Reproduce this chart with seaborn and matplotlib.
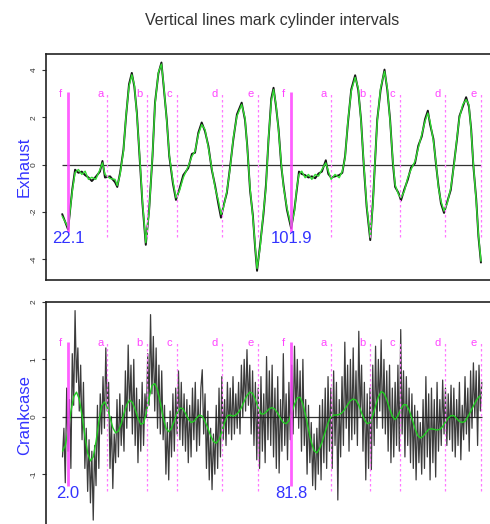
import numpy as np
import matplotlib
matplotlib.use('Agg')
import matplotlib.pyplot as plt
import seaborn as sns

# exhaust pressure (x in the panel's own units)
exhaust_x = [20.0, 22.1, 23.6, 24.6, 25.8, 27.0, 28.2, 29.4, 30.6, 32.0,
             33.5, 34.4, 35.3, 37.1, 38.9, 39.7, 40.7, 41.9, 42.85, 43.9,
             44.9, 45.8, 46.7, 47.6, 48.7, 49.9, 51.1, 52.3, 53.2, 54.4,
             55.5, 56.3, 57.4, 58.3, 59.6, 60.7, 61.9, 63.3, 65.1, 66.4,
             67.5, 68.7, 69.9, 71.1, 72.3, 73.5, 74.7, 75.9, 76.8, 77.7,
             78.9, 80.1, 81.2, 82.5, 84.2, 85.4, 86.2, 87.2, 88.2, 89.0,
             89.7, 90.8, 92.0, 92.9, 93.8, 94.8, 95.6, 96.5, 97.4, 98.4,
             99.2, 100.4, 101.9, 103.1, 103.9, 104.7, 105.7, 106.9, 108.1, 109.3,
             110.5, 111.7, 112.9, 114.3, 115.2, 116.2, 117.6, 119.1, 120.2, 121.2,
             122.2, 123.4, 124.8, 125.9, 126.9, 127.9, 128.9, 130.2, 131.2, 131.9,
             132.7, 133.9, 135.3, 136.3, 137.3, 138.3, 139.1, 140.3, 141.2, 142.4,
             143.6, 144.8, 146.2, 147.4, 148.6, 149.8, 150.8, 151.6, 152.8, 153.8,
             154.6, 155.5, 156.6, 157.8, 159.0, 160.2, 161.2, 162.1, 163.3, 164.5,
             165.5, 166.3, 167.1, 168.1, 168.9, 169.8]
exhaust_smooth = [-2.19, -2.66, -1.13, -0.34, -0.21, -0.42, -0.28, -0.63, -0.54, -0.63,
                  -0.21, 0.07, -0.42, -0.59, -0.63, -0.89, -0.42, 0.56, 2.11, 3.31,
                  3.80, 3.38, 2.11, 0.56, -1.55, -3.31, -1.97, 0.42, 2.54, 3.90,
                  4.25, 3.38, 1.83, 0.42, -0.70, -1.41, -1.13, -0.56, -0.07, 0.35,
                  0.56, 1.27, 1.69, 1.48, 0.70, -0.14, -0.99, -1.55, -2.11, -1.83,
                  -1.13, -0.14, 1.13, 2.04, 2.54, 1.97, 0.70, -0.99, -2.25, -3.38,
                  -4.40, -3.52, -1.97, -0.99, 1.13, 2.68, 3.17, 2.54, 1.41, 0.00,
                  -0.99, -1.83, -2.61, -1.97, -0.99, -0.42, -0.28, -0.56, -0.42, -0.63,
                  -0.42, -0.49, -0.21, 0.07, -0.28, -0.63, -0.42, -0.56, -0.28, 0.28,
                  1.83, 3.10, 3.69, 3.24, 1.83, 0.00, -1.69, -3.10, -1.60, 0.14,
                  1.83, 3.24, 3.94, 3.24, 1.83, 0.14, -0.85, -1.27, -1.41, -1.13,
                  -0.56, -0.21, 0.14, 0.70, 1.27, 1.83, 2.18, 1.83, 0.99, 0.00,
                  -0.99, -1.55, -1.97, -1.62, -0.99, 0.00, 1.13, 1.97, 2.54, 2.75,
                  2.54, 1.41, 0.00, -1.55, -2.96, -4.09]
exhaust_raw = [-2.10, -2.75, -1.05, -0.22, -0.35, -0.30, -0.45, -0.55, -0.70, -0.52,
               -0.30, 0.15, -0.55, -0.50, -0.75, -0.95, -0.35, 0.62, 2.05, 3.40,
               3.88, 3.30, 2.20, 0.48, -1.65, -3.40, -1.90, 0.35, 2.62, 3.85,
               4.32, 3.30, 1.90, 0.35, -0.80, -1.50, -1.05, -0.45, -0.15, 0.45,
               0.50, 1.35, 1.78, 1.40, 0.78, -0.22, -0.90, -1.70, -2.25, -1.75,
               -1.20, -0.05, 1.05, 2.12, 2.62, 1.88, 0.78, -1.10, -2.15, -3.50,
               -4.50, -3.40, -2.10, -0.85, 1.05, 2.80, 3.25, 2.45, 1.50, -0.10,
               -0.90, -1.92, -2.70, -1.88, -1.08, -0.30, -0.40, -0.45, -0.55, -0.50,
               -0.58, -0.38, -0.30, 0.18, -0.40, -0.55, -0.50, -0.45, -0.35, 0.35,
               1.75, 3.18, 3.78, 3.15, 1.90, -0.08, -1.78, -3.20, -1.50, 0.05,
               1.90, 3.15, 4.02, 3.15, 1.90, 0.05, -0.95, -1.20, -1.52, -1.05,
               -0.65, -0.12, 0.05, 0.80, 1.18, 1.92, 2.28, 1.70, 1.08, -0.08,
               -0.90, -1.65, -2.05, -1.55, -1.08, 0.08, 1.05, 2.05, 2.45, 2.85,
               2.45, 1.50, -0.08, -1.45, -3.05, -4.15]

# crankcase pressure
crank_x = np.arange(0, 151, 1.0)
crank_smooth = [-0.60, -0.50, -0.24, 0.09, 0.35, 0.43, 0.31, 0.02, -0.33, -0.63,
                -0.77, -0.70, -0.43, -0.09, 0.19, 0.26, 0.17, -0.01, -0.19, -0.28,
                -0.25, -0.12, 0.06, 0.21, 0.29, 0.25, 0.13, -0.02, -0.13, -0.11,
                0.07, 0.33, 0.54, 0.58, 0.47, 0.24, -0.01, -0.20, -0.26, -0.20,
                -0.07, 0.07, 0.15, 0.145, 0.06, -0.04, -0.10, -0.08, -0.02, 0.03,
                0.01, -0.08, -0.20, -0.33, -0.43, -0.46, -0.40, -0.26, -0.10, 0.02,
                0.03, 0.01, 0.03, 0.08, 0.16, 0.27, 0.37, 0.43, 0.41, 0.30,
                0.16, 0.05, 0.05, 0.09, 0.14, 0.16, 0.13, 0.06, -0.03, -0.10,
                -0.12, -0.07, 0.07, 0.22, 0.33, 0.34, 0.22, 0.02, -0.22, -0.44,
                -0.59, -0.63, -0.55, -0.42, -0.26, -0.11, 0.00, 0.03, 0.03, 0.04,
                0.07, 0.13, 0.21, 0.28, 0.31, 0.29, 0.20, 0.07, -0.05, -0.12,
                -0.10, 0.02, 0.19, 0.35, 0.44, 0.41, 0.30, 0.14, 0.01, -0.05,
                0.02, 0.13, 0.21, 0.21, 0.12, -0.03, -0.19, -0.32, -0.37, -0.34,
                -0.28, -0.22, -0.21, -0.22, -0.23, -0.22, -0.17, -0.09, -0.02, 0.02,
                0.02, -0.03, -0.08, -0.10, -0.08, 0.00, 0.09, 0.19, 0.28, 0.35, 0.38]
crank_raw_x = np.arange(0, 150.5, 0.5)
crank_raw = [-0.7, -0.2, -1.15, 0.5, -0.6, 0.3, -0.9, 1.1, 0.2, 1.85,
             0.6, 1.2, 0.1, 0.9, -0.4, 0.6, -0.9, -0.2, -1.3, -0.4,
             -1.5, -0.6, -1.8, -0.5, -1.2, 0.2, -0.9, 0.4, -0.3, 0.7,
             -0.2, 1.2, 0.1, 0.6, -0.9, 0.0, -1.25, -0.3, -0.8, 0.3,
             -0.7, 0.4, -0.5, 0.2, -0.6, 0.8, -0.2, 1.25, 0.1, 0.9,
             -0.3, 1.0, -0.5, 0.5, -0.8, 0.3, -0.6, 0.6, -0.5, 0.4,
             0.0, 1.1, 0.2, 1.78, 0.4, 1.4, 0.1, 1.2, -0.2, 0.9,
             -0.3, 0.8, -0.4, 0.2, -1.0, -0.1, -1.1, 0.1, -0.7, 0.4,
             -0.6, 0.5, -0.3, 0.8, -0.4, 0.6, -0.5, 0.4, -0.6, 0.3,
             -0.8, 0.2, -0.7, 0.5, -0.4, 0.6, -0.6, 0.3, -0.5, 0.5,
             0.82, -0.3, 0.4, -0.9, 0.1, -1.1, -0.2, -1.27, -0.3, -1.0,
             0.2, -0.9, 0.5, -0.7, 0.7, -0.4, 0.3, -0.5, 0.6, -0.3,
             0.5, -0.4, 0.7, -0.3, 0.4, -0.2, 0.6, -0.3, 0.9, 0.0,
             1.0, 0.1, 1.17, 0.2, 0.9, -0.3, 0.8, -0.5, 0.6, -0.75,
             0.5, -0.9, 0.7, -0.6, 0.4, -0.8, 1.05, -0.4, 0.8, -0.5,
             0.9, -0.7, 0.5, -0.9, 0.7, -0.98, 0.3, -0.6, 1.1, -0.5,
             0.4, -0.75, 0.6, -0.4, 0.9, -0.3, 1.23, 0.0, 1.0, -0.2,
             0.8, -0.6, 1.0, -0.5, 0.3, -1.0, 0.2, -0.8, -0.1, -1.2,
             -0.3, -1.27, -0.2, -1.0, 0.2, -1.1, 0.3, -0.8, 0.5, -0.9,
             0.7, -0.6, 0.5, -0.9, 0.8, -0.5, 0.6, -1.45, 0.3, -0.7,
             0.7, -0.5, 1.3, -0.2, 0.9, -0.6, 1.0, -0.4, 1.2, -0.3,
             0.8, -0.5, 1.49, 0.0, 0.9, -0.6, 0.6, -1.1, 0.4, -0.9,
             0.5, -0.92, 0.9, -0.5, 1.23, -0.2, 1.0, 0.1, 1.34, -0.2,
             1.0, -0.3, 0.8, -0.6, 0.9, -0.8, 0.5, -0.7, 0.6, -0.5,
             0.9, -0.6, 1.52, -0.3, 0.8, -0.7, 0.7, -0.5, 0.5, -0.8,
             0.4, -0.9, 0.2, -1.1, 0.1, -0.8, -0.1, -1.0, 0.3, -0.9,
             0.7, -0.7, 0.4, -1.1, 0.5, -0.8, 0.3, -1.05, 0.6, -0.6,
             0.3, -0.5, 0.64, -0.3, 0.5, -0.5, 0.4, -0.4, 0.55, -0.6,
             0.5, -0.7, 0.3, -0.5, 0.6, -0.75, 0.2, -0.4, 0.7, -0.3,
             0.5, -0.6, 0.8, -0.2, 0.94, 0.0, 0.8, -0.5, 0.9, 0.1,
             0.6]

# cylinder interval marks: offsets from each "f" firing point
cyl_labels = ['f', 'a', 'b', 'c', 'd', 'e']
cyl_offsets = [0.0, 14.1, 28.25, 38.8, 54.9, 68.0]
exhaust_marks = [22.1, 101.9]
crank_marks = [2.0, 81.8]

sns.set_style('white')
plt.rcParams['font.family'] = ['Liberation Sans', 'DejaVu Sans']
plt.rcParams['axes.unicode_minus'] = False

W, H = 490, 524
fig = plt.figure(figsize=(W / 100, H / 100), dpi=100)
# both panels run past the right edge (and the lower one past the bottom)
ax1 = fig.add_axes([46 / W, 1 - 280 / H, 452 / W, 226 / H])
ax2 = fig.add_axes([46 / W, 1 - 528.7 / H, 452 / W, 226.7 / H])

MAG = '#ff44ff'
DASH = '#ff77ff'
BLUE = '#3333ff'


def draw_marks(ax, marks, top, bottom, f_bottom, letter_y, num_y):
    for m in marks:
        for lab, off in zip(cyl_labels, cyl_offsets):
            xv = m + off
            if lab == 'f':
                ax.vlines(xv, f_bottom, top, color=MAG, lw=2.0, alpha=0.85, zorder=4)
            else:
                ax.vlines(xv, bottom, top, color=DASH, lw=0.9, ls=(0, (2, 2)), zorder=4)
            ax.text(xv - 2.6, letter_y, lab, color=MAG, fontsize=8,
                    ha='center', va='center', zorder=5)
        ax.text(m, num_y, f'{m:.1f}', color=BLUE, fontsize=12,
                ha='center', va='center', zorder=6)


# top panel: exhaust
ax1.hlines(0, exhaust_x[0], exhaust_x[-1], color='#333333', lw=0.9, zorder=1)
sns.lineplot(x=exhaust_x, y=exhaust_raw, ax=ax1, color='#151515', lw=1.4,
             sort=False, estimator=None, zorder=2)
sns.lineplot(x=exhaust_x, y=exhaust_smooth, ax=ax1, color='#33dd33', lw=1.0,
             sort=False, estimator=None, zorder=3)
draw_marks(ax1, exhaust_marks, 3.08, -3.08, -2.85, 3.0, -3.15)
ax1.set_xlim(14.2, 175.9)
ax1.set_ylim(-4.89, 4.68)
ax1.set_yticks([-4, -2, 0, 2, 4])
ax1.set_ylabel('Exhaust', color=BLUE, fontsize=12)

# bottom panel: crankcase
ax2.hlines(0, crank_raw_x[0], crank_raw_x[-1], color='#333333', lw=0.9, zorder=1)
sns.lineplot(x=crank_raw_x, y=crank_raw, ax=ax2, color='#1a1a1a', lw=0.9,
             alpha=0.85, sort=False, estimator=None, zorder=2)
sns.lineplot(x=crank_x, y=crank_smooth, ax=ax2, color='#22cc22', lw=1.0,
             sort=False, estimator=None, zorder=3)
draw_marks(ax2, crank_marks, 1.3, -1.3, -1.2, 1.29, -1.34)
ax2.set_xlim(-5.9, 155.8)
ax2.set_ylim(-1.95, 2.0)
ax2.set_yticks([-1, 0, 1, 2])
ax2.set_ylabel('Crankcase', color=BLUE, fontsize=12)

for ax in (ax1, ax2):
    ax.set_xticks([])
    ax.set_xlabel('')
    ax.tick_params(axis='y', length=3, width=0.8, color='#333333', pad=3,
                   labelsize=6, labelcolor='#333333', left=True)
    for t in ax.get_yticklabels():
        t.set_rotation(90)
        t.set_va('center')
    for s in ax.spines.values():
        s.set_color('#222222')
        s.set_linewidth(1.2)
    ax.yaxis.set_label_coords(-0.031, 0.5)

fig.text(272 / W, 1 - 20 / H, 'Vertical lines mark cylinder intervals',
         ha='center', va='center', fontsize=11.5, color='#333333')

fig.savefig('out.png', dpi=100)
